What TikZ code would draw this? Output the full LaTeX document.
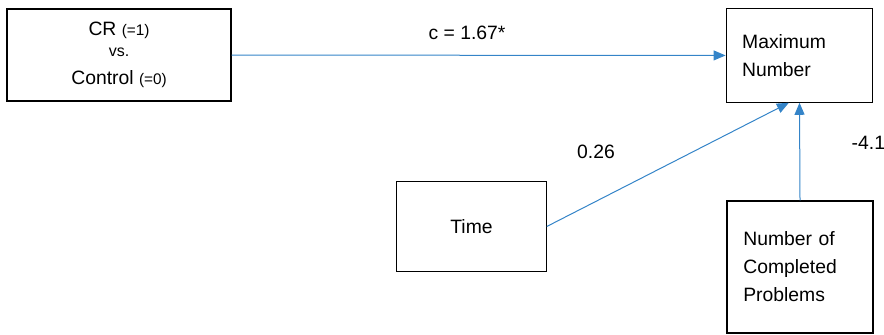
\documentclass[tikz,border=0pt]{standalone}
\usepackage{fontspec}
\setmainfont{Liberation Sans}
\usetikzlibrary{positioning, arrows.meta}
\definecolor{pathblue}{RGB}{52,132,200}
\tikzset{
  varbox/.style={rectangle, draw=black, line width=0.9pt, text centered},
  leftbox/.style={rectangle, draw=black, line width=0.9pt, align=left, inner xsep=12pt},
  arrow/.style={draw=pathblue, line width=0.75pt, -{Triangle[length=9pt,width=7.5pt]}},
  coef/.style={font=\fontsize{14.5}{17}\selectfont}
}
\newcommand{\codesize}[1]{{\fontsize{11.5}{21}\selectfont #1}}

\begin{document}
\begin{tikzpicture}[
    x=0.75pt, y=-0.75pt,
    every node/.style={font=\fontsize{14.5}{21}\selectfont}
]
    \useasboundingbox (0,0) rectangle (884,335);
    \node (cr) [varbox, minimum width=168pt, minimum height=69pt, align=center] at (119,55)
        {CR \codesize{(=1)}\\[-5pt] {\fontsize{12}{16}\selectfont vs.}\\ Control \codesize{(=0)}};
    \node (max) [leftbox, minimum width=110pt, minimum height=70pt, text width=86pt] at (799.5,55.5) {Maximum\\Number};
    \node (time) [varbox, minimum width=112pt, minimum height=68pt] at (471.5,226.5) {Time};
    \node (ncp) [leftbox, minimum width=109.5pt, minimum height=99pt, text width=85pt] at (800,267) {Number of\\Completed\\Problems};

    \node (c) [coef] at (467,33) {c = 1.67*};
    \node (b1) [coef] at (596,152) {0.26};
    \node (b2) [coef, anchor=west] at (847,143) {-4.1};

    \draw [arrow] (cr) -- (max);
    \draw [arrow] (time.east) -- ([xshift=-8pt]max.south);
    \draw [arrow] (ncp.north) -- (max.south);
\end{tikzpicture}
\end{document}
